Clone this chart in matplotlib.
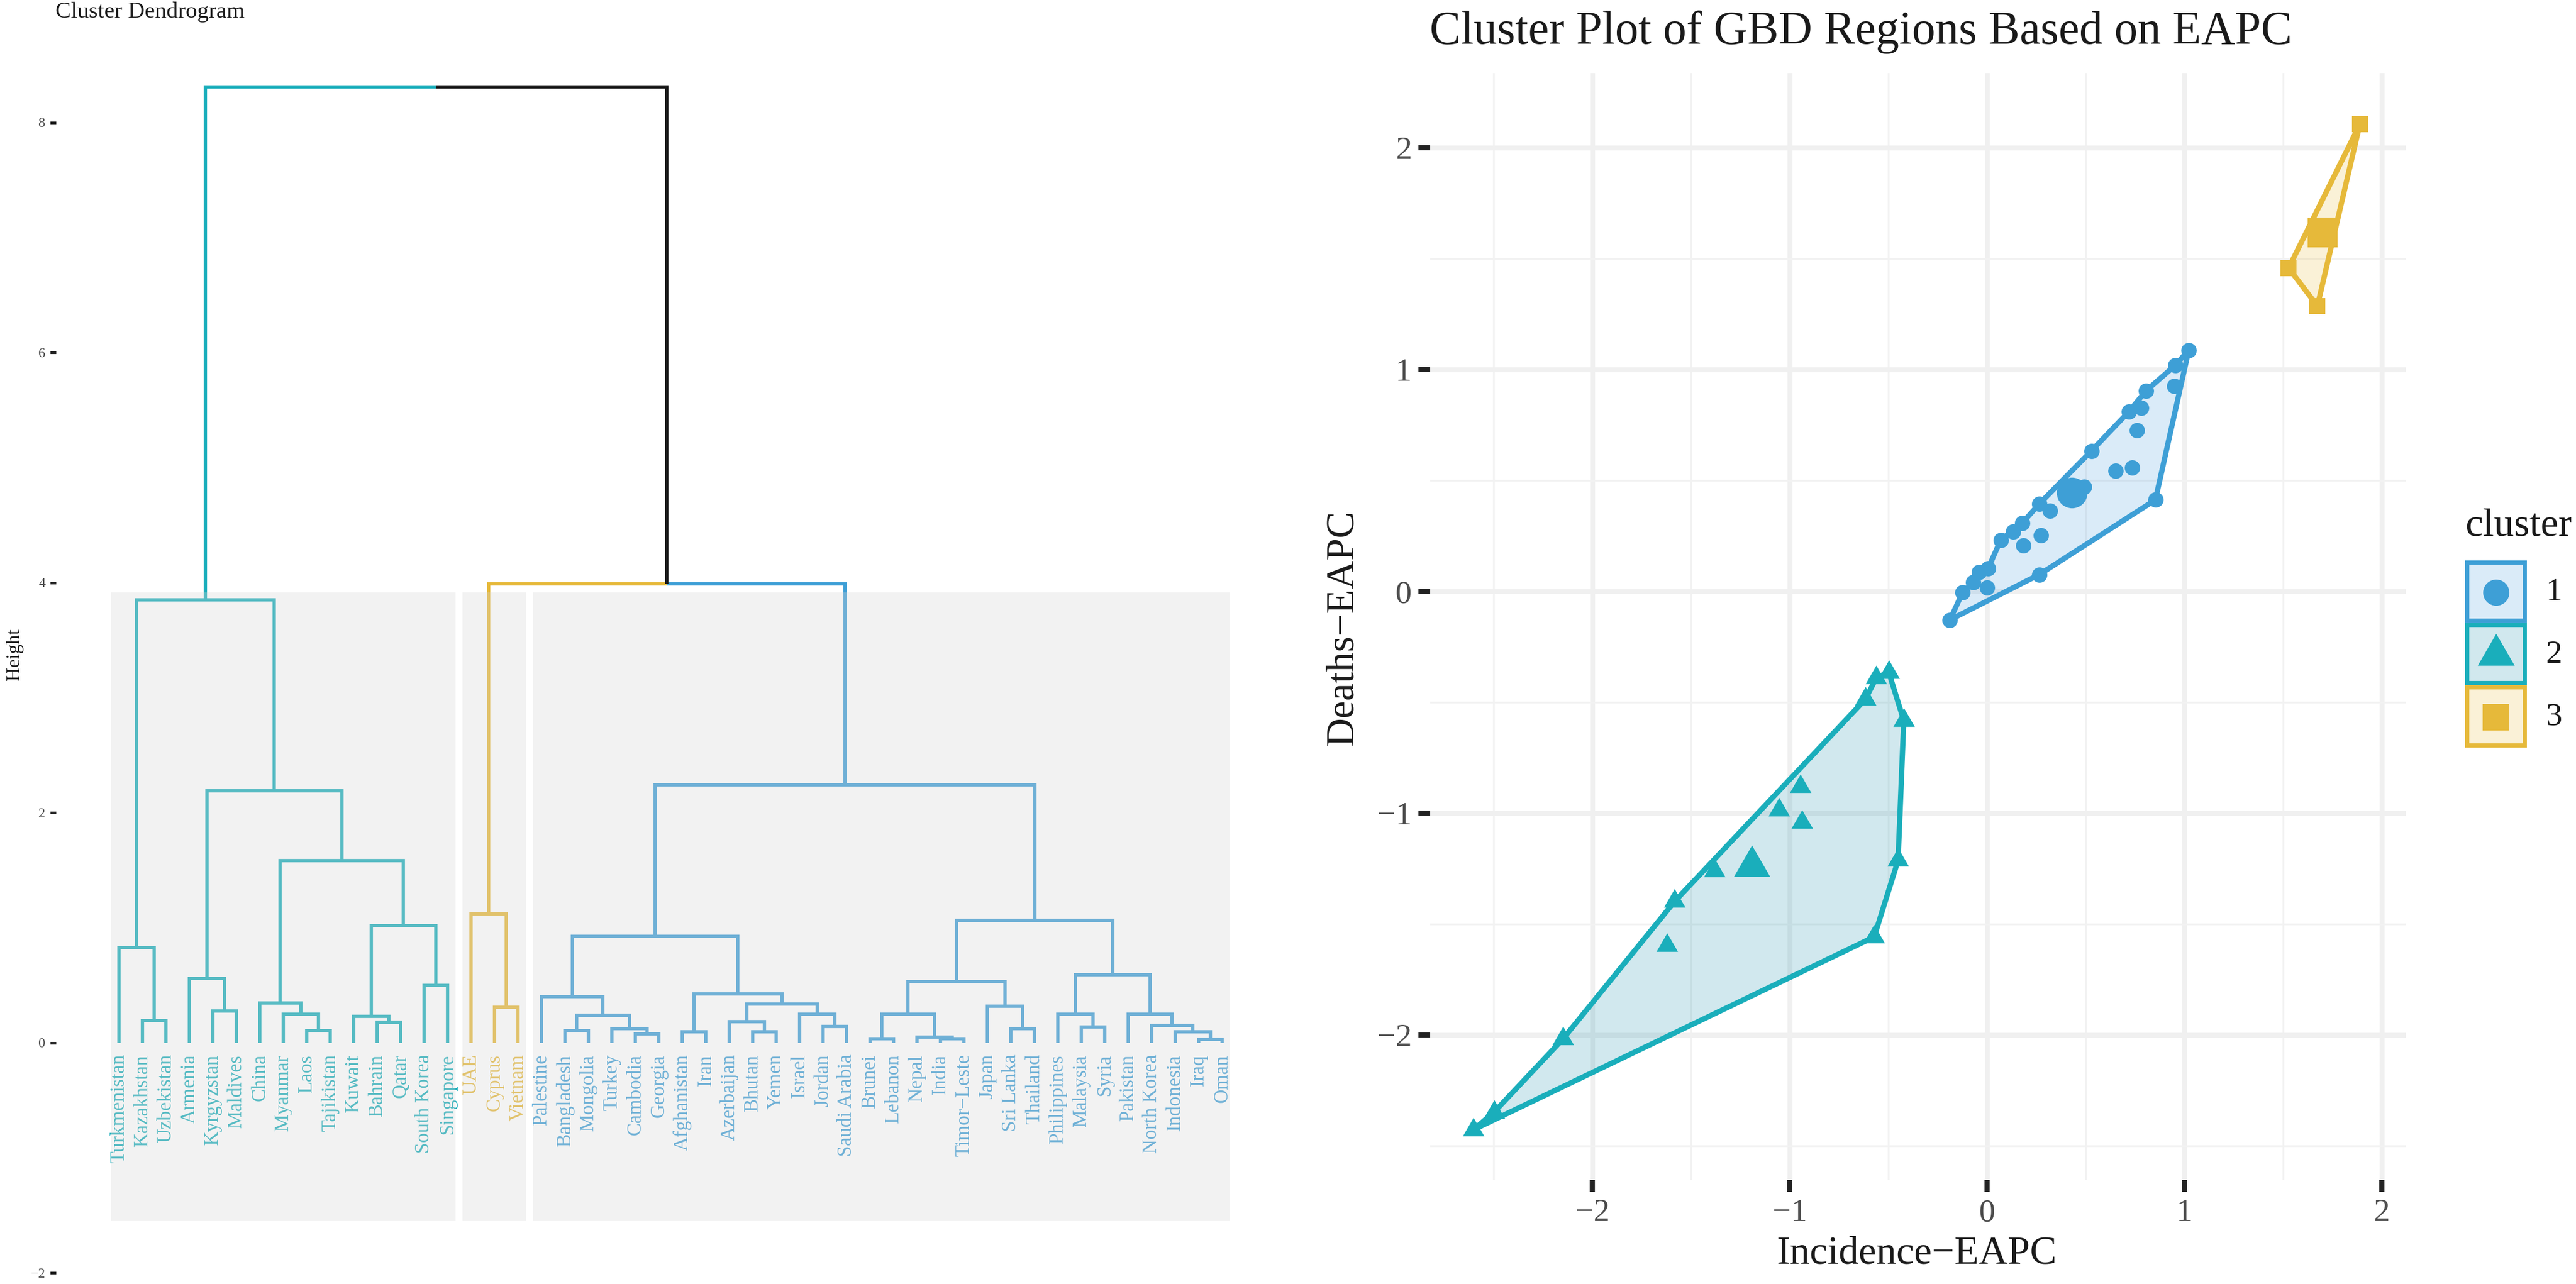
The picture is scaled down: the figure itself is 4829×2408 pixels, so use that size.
import matplotlib
matplotlib.use('Agg')
import matplotlib.pyplot as plt
from matplotlib.patches import Polygon, Rectangle
from matplotlib.ticker import MultipleLocator

plt.rcParams['font.family'] = ['Liberation Serif', 'DejaVu Serif']

W, H = 4829, 2408
DPI = 300

# Dendrogram: (left, right, height), leaves are region names
tree_c1 = (
    ('Turkmenistan', ('Kazakhstan', 'Uzbekistan', 0.195), 0.826),
    (
        ('Armenia', ('Kyrgyzstan', 'Maldives', 0.277), 0.557),
        (
            ('China', ('Myanmar', ('Laos', 'Tajikistan', 0.106), 0.248), 0.344),
            (
                ('Kuwait', ('Bahrain', 'Qatar', 0.177), 0.23),
                ('South Korea', 'Singapore', 0.50),
                1.02,
            ),
            1.585,
        ),
        2.19,
    ),
    3.85,
)
tree_c3 = ('UAE', ('Cyprus', 'Vietnam', 0.31), 1.12)
tree_c2_a = (
    (
        'Palestine',
        (('Bangladesh', 'Mongolia', 0.106), ('Turkey', ('Cambodia', 'Georgia', 0.078), 0.124), 0.238),
        0.40,
    ),
    (
        ('Afghanistan', 'Iran', 0.096),
        (
            ('Azerbaijan', ('Bhutan', 'Yemen', 0.096), 0.184),
            ('Israel', ('Jordan', 'Saudi Arabia', 0.142), 0.248),
            0.337,
        ),
        0.425,
    ),
    0.925,
)
tree_c2_b = (
    (
        (('Brunei', 'Lebanon', 0.035), ('Nepal', ('India', 'Timor\u2212Leste', 0.035), 0.05), 0.248),
        ('Japan', ('Sri Lanka', 'Thailand', 0.124), 0.32),
        0.53,
    ),
    (
        ('Philippines', ('Malaysia', 'Syria', 0.138), 0.248),
        ('Pakistan', ('North Korea', ('Indonesia', ('Iraq', 'Oman', 0.03), 0.096), 0.152), 0.248),
        0.59,
    ),
    1.064,
)
tree_c2 = (tree_c2_a, tree_c2_b, 2.24)
tree_right = (tree_c3, tree_c2, 3.99)
tree_root = (tree_c1, tree_right, 8.31)
rect_top = 3.916
rect_bottom = -1.55

# Cluster plot points, the first one of each list is the centre of the cluster
c1_x = [0.43, -0.188, 0.264, 0.853, 1.022, 0.953, 0.805, 0.719, 0.529, 0.264, 0.178, 0.069, 0.005, -0.124,
        0.948, 0.781, 0.759, 0.736, 0.652, 0.491, 0.414, 0.319, 0.133, 0.272, 0.184, -0.04, -0.069, 0.0]
c1_y = [0.445, -0.129, 0.075, 0.412, 1.087, 1.018, 0.903, 0.81, 0.633, 0.393, 0.307, 0.231, 0.102, -0.005,
        0.924, 0.826, 0.725, 0.558, 0.544, 0.47, 0.476, 0.362, 0.27, 0.253, 0.206, 0.086, 0.04, 0.016]
c1_hull = [1, 2, 3, 4, 5, 6, 7, 8, 9, 10, 11, 12, 13]

c2_x = [-1.191, -2.602, -0.572, -0.451, -0.422, -0.498, -0.561, -0.617, -1.583, -2.148, -2.498,
        -1.381, -1.621, -1.055, -0.947, -0.939]
c2_y = [-1.239, -2.427, -1.558, -1.213, -0.583, -0.365, -0.39, -0.487, -1.398, -2.017, -2.348,
        -1.26, -1.597, -0.987, -0.881, -1.042]
c2_hull = [1, 2, 3, 4, 5, 6, 7, 8, 9, 10]

c3_x = [1.70, 1.674, 1.889, 1.528]
c3_y = [1.617, 1.286, 2.105, 1.457]
c3_hull = [1, 2, 3]

cluster_names = ['1', '2', '3']
BLUE = '#3E9FD6'
TEAL = '#1AAEBB'
GOLD = '#E6B93A'
# the teal hull fill is a bit greyer than its line
FILL_BLUE = '#4A9CDC'
FILL_TEAL = '#1A8FAB'
FILL_GOLD = '#E6B93A'


def get_leaves(node):
    if isinstance(node, str):
        return [node]
    return get_leaves(node[0]) + get_leaves(node[1])


leaves_c1 = get_leaves(tree_c1)
leaves_c3 = get_leaves(tree_c3)
leaves_c2 = get_leaves(tree_c2)
leaves = leaves_c1 + leaves_c3 + leaves_c2
leaf_pos = {name: i + 1 for i, name in enumerate(leaves)}
leaf_color = {}
for nombre in leaves_c1:
    leaf_color[nombre] = TEAL
for nombre in leaves_c3:
    leaf_color[nombre] = GOLD
for nombre in leaves_c2:
    leaf_color[nombre] = BLUE


def node_color(node):
    colores = {leaf_color[n] for n in get_leaves(node)}
    return colores.pop() if len(colores) == 1 else '#1A1A1A'


def draw_node(ax, node):
    # returns x, height of the node and draws both halves in the child's colour
    if isinstance(node, str):
        return leaf_pos[node], 0.0
    xl, hl = draw_node(ax, node[0])
    xr, hr = draw_node(ax, node[1])
    h = node[2]
    mid = (xl + xr) / 2
    for x, hc, child in ((xl, hl, node[0]), (xr, hr, node[1])):
        ax.plot([x, x, mid], [hc, h, h], color=node_color(child), lw=1.5,
                solid_joinstyle='miter', solid_capstyle='butt', zorder=2, clip_on=False)
    return mid, h


def px_axes(fig, x0, y0, x1, y1):
    return fig.add_axes([x0 / W, 1 - y1 / H, (x1 - x0) / W, (y1 - y0) / H])


fig = plt.figure(figsize=(W / DPI, H / DPI), dpi=DPI, facecolor='white')

# Dendrogram
ax = px_axes(fig, 105, 150, 2330, 2400)
ax.set_xlim(-1.68, 48.89)
ax.set_ylim(-2.06, 8.37)
for lado in ax.spines.values():
    lado.set_visible(False)
ax.set_xticks([])
ax.set_yticks([-2, 0, 2, 4, 6, 8])
ax.tick_params(axis='y', length=2.6, width=1.2, color='#222222', pad=2.2,
               labelsize=6.2, labelcolor='#4D4D4D')
draw_node(ax, tree_root)
for nombre in leaves:
    ax.text(leaf_pos[nombre], -0.1, nombre, rotation=90, ha='center', va='top',
            fontsize=8.9, color=leaf_color[nombre], zorder=3)
start = 1
for grupo in (leaves_c1, leaves_c3, leaves_c2):
    end = start + len(grupo) - 1
    ax.add_patch(Rectangle((start - 0.35, rect_bottom), end - start + 0.7, rect_top - rect_bottom,
                           fc='#D7D7D7', ec='none', alpha=0.32, zorder=5))
    start = end + 1
fig.text(104 / W, 1 - 33 / H, 'Cluster Dendrogram', fontsize=10.4, color='#1A1A1A', ha='left', va='baseline')
fig.text(28 / W, 1 - 1227 / H, 'Height', fontsize=8.6, color='#1A1A1A', rotation=90, ha='center', va='center')

# Cluster plot
ax2 = px_axes(fig, 2681, 137, 4510, 2213)
ax2.set_xlim(-2.822, 2.122)
ax2.set_ylim(-2.654, 2.336)
for lado in ax2.spines.values():
    lado.set_visible(False)
ax2.set_xticks([-2, -1, 0, 1, 2])
ax2.set_yticks([-2, -1, 0, 1, 2])
ax2.xaxis.set_minor_locator(MultipleLocator(0.5))
ax2.yaxis.set_minor_locator(MultipleLocator(0.5))
ax2.set_axisbelow(True)
ax2.grid(which='major', color='#F0F0F0', lw=2.2)
ax2.grid(which='minor', color='#F2F2F2', lw=0.8)
ax2.tick_params(which='minor', length=0)
ax2.tick_params(which='major', length=5.3, width=2.3, color='#222222', pad=3,
                labelsize=14.6, labelcolor='#4D4D4D')

series = [
    (c1_x, c1_y, c1_hull, BLUE, FILL_BLUE, 'o', 48, 190),
    (c2_x, c2_y, c2_hull, TEAL, FILL_TEAL, (3, 0, 0), 125, 350),
    (c3_x, c3_y, c3_hull, GOLD, FILL_GOLD, 's', 49, 175),
]
for xs, ys, hull, color, relleno, marker, s_pt, s_centre in series:
    borde = [(xs[i], ys[i]) for i in hull]
    ax2.add_patch(Polygon(borde, closed=True, fc=matplotlib.colors.to_rgba(relleno, 0.2), ec='none', zorder=2))
    ax2.add_patch(Polygon(borde, closed=True, fc='none', ec=color, lw=2.4, joinstyle='round', zorder=3))
    ax2.scatter(xs[1:], ys[1:], s=s_pt, c=color, marker=marker, linewidths=0, zorder=4)
    ax2.scatter(xs[:1], ys[:1], s=s_centre, c=color, marker=marker, linewidths=0, zorder=4)

fig.text(2680 / W, 1 - 82 / H, 'Cluster Plot of GBD Regions Based on EAPC', fontsize=21.0,
         color='#1A1A1A', ha='left', va='baseline')
fig.text(3593 / W, 1 - 2369 / H, 'Incidence\u2212EAPC', fontsize=18, color='#1A1A1A', ha='center', va='baseline')
fig.text(2519 / W, 1 - 1177 / H, 'Deaths\u2212EAPC', fontsize=18, color='#1A1A1A', rotation=90, ha='center', va='center')

# Legend drawn in pixel coordinates
leg = fig.add_axes([0, 0, 1, 1], facecolor='none')
leg.set_xlim(0, W)
leg.set_ylim(H, 0)
leg.axis('off')
fig.text(4621 / W, 1 - 1006 / H, 'cluster', fontsize=18, color='#1A1A1A', ha='left', va='baseline')
for i, (nombre, fila) in enumerate(zip(cluster_names, series)):
    color, relleno, marker = fila[3], fila[4], fila[5]
    arriba = 1051 + i * 117
    leg.add_patch(Rectangle((4625, arriba + 4), 108, 109, fc=matplotlib.colors.to_rgba(relleno, 0.2), ec=color, lw=1.9))
    size = 368 if marker == (3, 0, 0) else 139
    leg.scatter([4679], [arriba + 60], s=size, c=color, marker=marker, linewidths=0)
    leg.text(4788, arriba + 60, nombre, fontsize=14.6, color='#1A1A1A', ha='center', va='center')

fig.savefig('out.png', dpi=DPI)
